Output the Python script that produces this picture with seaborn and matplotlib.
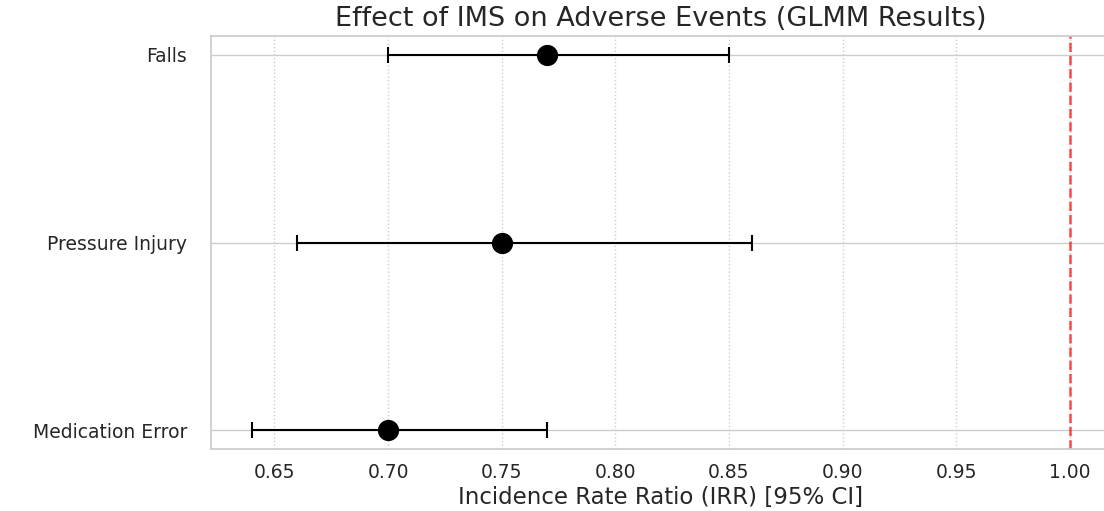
import numpy as np
import pandas as pd
import seaborn as sns
import matplotlib
matplotlib.use("Agg")
import matplotlib.pyplot as plt

# GLMM results, top to bottom
events = ["Falls", "Pressure Injury", "Medication Error"]
irr = [0.77, 0.75, 0.70]
ci_low = [0.70, 0.66, 0.64]
ci_high = [0.85, 0.86, 0.77]

df = pd.DataFrame({"event": events, "irr": irr, "low": ci_low, "high": ci_high})

sns.set_theme(style="whitegrid")
fig = plt.figure(figsize=(11.04, 5.11), dpi=100)
ax = fig.add_axes([0.191, 0.1213, 0.815, 0.8082])

xerr = np.array([df["irr"] - df["low"], df["high"] - df["irr"]])
ax.errorbar(df["irr"], df["event"], xerr=xerr, fmt="none", ecolor="black",
            elinewidth=1.5, capsize=6, capthick=1.5, zorder=2)
sns.scatterplot(data=df, x="irr", y="event", color="black", s=200,
                edgecolor="black", ax=ax, zorder=3)

ax.axvline(1.0, color="red", linestyle="--", linewidth=1.8, alpha=0.7)
ax.grid(axis="x", linestyle=":", linewidth=1)

ax.set_title("Effect of IMS on Adverse Events (GLMM Results)", fontsize=19.5, pad=7)
ax.set_xlabel("Incidence Rate Ratio (IRR) [95% CI]", fontsize=16.5)
ax.xaxis.label.set_va("baseline")
ax.xaxis.set_label_coords(0.5, -0.133)
ax.set_ylabel("")
ax.tick_params(axis="x", labelsize=13.5, pad=4)
ax.tick_params(axis="y", labelsize=13.5, pad=11)

fig.savefig("out.png", dpi=100)
